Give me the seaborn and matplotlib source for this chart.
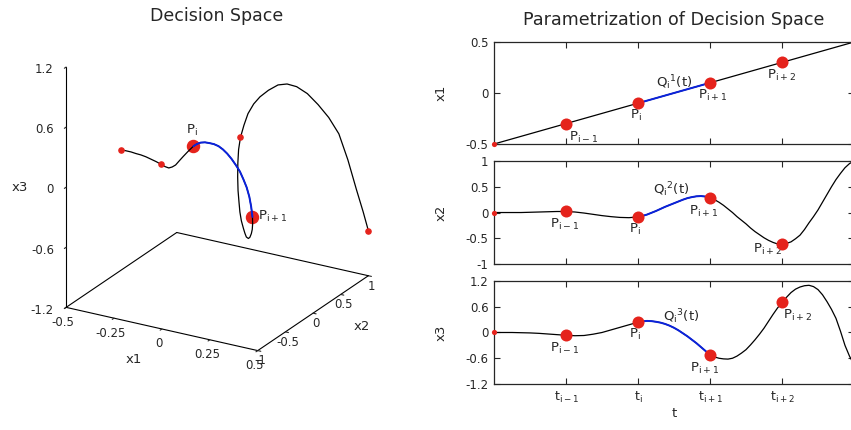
import numpy as np
import pandas as pd
import matplotlib
matplotlib.use('Agg')
import matplotlib.pyplot as plt
import seaborn as sns
from mpl_toolkits.mplot3d import proj3d

t = [0.0, 0.125, 0.25, 0.375, 0.5, 0.625, 0.75, 0.875,
     1.0, 1.125, 1.25, 1.375, 1.5, 1.625, 1.75, 1.875,
     2.0, 2.0625, 2.125, 2.1875, 2.25, 2.3125, 2.375, 2.4375,
     2.5, 2.5625, 2.625, 2.6875, 2.75, 2.8125, 2.875, 2.9375,
     3.0, 3.0625, 3.125, 3.1875, 3.25, 3.3125, 3.375, 3.4375,
     3.5, 3.5625, 3.625, 3.6875, 3.75, 3.8125, 3.875, 3.9375,
     4.0, 4.0625, 4.125, 4.1875, 4.25, 4.3125, 4.375, 4.4375,
     4.5, 4.5625, 4.625, 4.6875, 4.75, 4.8125, 4.875, 4.9375, 5.0]
x1 = [-0.5, -0.475, -0.45, -0.425, -0.4, -0.375, -0.35, -0.325,
      -0.3, -0.275, -0.25, -0.225, -0.2, -0.175, -0.15, -0.125,
      -0.1, -0.0875, -0.075, -0.0625, -0.05, -0.0375, -0.025, -0.0125,
      0.0, 0.0125, 0.025, 0.0375, 0.05, 0.0625, 0.075, 0.0875,
      0.1, 0.1125, 0.125, 0.1375, 0.15, 0.1625, 0.175, 0.1875,
      0.2, 0.2125, 0.225, 0.2375, 0.25, 0.2625, 0.275, 0.2875,
      0.3, 0.3125, 0.325, 0.3375, 0.35, 0.3625, 0.375, 0.3875,
      0.4, 0.4125, 0.425, 0.4375, 0.45, 0.4625, 0.475, 0.4875, 0.5]
x2 = [0.0, 0.0, 0.0, 0.0, 0.005, 0.01, 0.015, 0.02,
      0.02, 0.01, -0.01, -0.035, -0.06, -0.08, -0.095, -0.1,
      -0.085, -0.065, -0.04, -0.005, 0.03, 0.07, 0.11, 0.145,
      0.18, 0.215, 0.25, 0.28, 0.3, 0.315, 0.32, 0.31,
      0.29, 0.25, 0.2, 0.14, 0.07, 0.0, -0.08, -0.15,
      -0.22, -0.3, -0.37, -0.43, -0.49, -0.54, -0.58, -0.61,
      -0.62, -0.6, -0.57, -0.51, -0.44, -0.33, -0.2, -0.08,
      0.05, 0.2, 0.35, 0.5, 0.64, 0.76, 0.87, 0.95, 1.0]
x3 = [0.0, 0.0, 0.0, -0.005, -0.01, -0.02, -0.035, -0.05,
      -0.065, -0.075, -0.07, -0.04, 0.0, 0.06, 0.12, 0.18,
      0.24, 0.26, 0.27, 0.265, 0.25, 0.23, 0.2, 0.16,
      0.11, 0.05, -0.02, -0.09, -0.17, -0.25, -0.34, -0.43,
      -0.52, -0.57, -0.6, -0.615, -0.62, -0.6, -0.55, -0.48,
      -0.4, -0.29, -0.17, -0.04, 0.1, 0.26, 0.42, 0.57,
      0.7, 0.82, 0.93, 1.01, 1.06, 1.09, 1.1, 1.07,
      1.0, 0.88, 0.72, 0.54, 0.33, 0.03, -0.3, -0.55, -0.75]

knot_t = [0, 1, 2, 3, 4, 5]
seg_start, seg_end = 2, 3          # Q_i segment drawn in blue
point_labels = ['P$_{i-1}$', 'P$_{i}$', 'P$_{i+1}$', 'P$_{i+2}$']
t_ticklabels = ['t$_{i-1}$', 't$_{i}$', 't$_{i+1}$', 't$_{i+2}$']
q_labels = ['Q$_i$$^1$(t)', 'Q$_i$$^2$(t)', 'Q$_i$$^3$(t)']
x1_ticks = [-0.5, -0.25, 0, 0.25, 0.5]
x2_ticks = [-1, -0.5, 0, 0.5, 1]
x3_ticks = [-1.2, -0.6, 0, 0.6, 1.2]

RED = '#e5231c'
BLUE = '#0a22dc'

sns.set_style('ticks', {'xtick.direction': 'in', 'ytick.direction': 'in'})
plt.rcParams['font.family'] = ['DejaVu Sans']
plt.rcParams['mathtext.default'] = 'regular'
plt.rcParams['axes.unicode_minus'] = False
plt.rcParams['font.size'] = 8.5

df = pd.DataFrame({'t': t, 'x1': x1, 'x2': x2, 'x3': x3})
seg = df[(df['t'] >= seg_start) & (df['t'] <= seg_end)]
knots = df[df['t'].isin(knot_t)].reset_index(drop=True)
inner = knots[(knots['t'] > 0) & (knots['t'] < 5)]
ends = knots[(knots['t'] == 0) | (knots['t'] == 5)]

fig = plt.figure(figsize=(8.51, 4.30), dpi=100)

# ================= right: three parametrization panels =================
panels = [
    ('x1', [-0.5, 0.5], [-0.5, 0, 0.5], [0.5805, 0.6651, 0.4230, 0.2372]),
    ('x2', [-1, 1], [-1, -0.5, 0, 0.5, 1], [0.5805, 0.3860, 0.4230, 0.2395]),
    ('x3', [-1.2, 1.2], x3_ticks, [0.5805, 0.1070, 0.4230, 0.2395]),
]
# label offsets in pixels (dx, dy) for P_{i-1}..P_{i+2} and Q label
lab_off = [
    [(3, -17, 'left'), (-2, -16, 'center'), (3, -16, 'center'), (0, -16, 'center')],
    [(-1, -16, 'center'), (-3, -16, 'center'), (-6, -17, 'center'), (-14, -8, 'center')],
    [(-1, -17, 'center'), (-3, -16, 'center'), (-5, -17, 'center'), (16, -16, 'center')],
]
q_off = [(-18, 6), (-21, 9), (-11, 7)]

for k, (col, ylim, yticks, pos) in enumerate(panels):
    ax = fig.add_axes(pos)
    sns.lineplot(data=df, x='t', y=col, color='black', lw=0.9, estimator=None, ax=ax)
    sns.lineplot(data=seg, x='t', y=col, color=BLUE, lw=1.4, estimator=None, ax=ax)
    sns.scatterplot(data=inner, x='t', y=col, color=RED, s=75, linewidth=0, ax=ax, zorder=5)
    sns.scatterplot(data=ends, x='t', y=col, color=RED, s=14, linewidth=0, ax=ax, zorder=5,
                    clip_on=False)
    ax.set_xlim(0, 5)
    ax.set_ylim(*ylim)
    ax.set_yticks(yticks)
    ax.set_yticklabels([f'{v:g}' for v in yticks])
    ax.set_xticks([1, 2, 3, 4])
    ax.tick_params(top=True, right=True, length=4, width=0.8, pad=4)
    for sp in ax.spines.values():
        sp.set_linewidth(0.9)
    ax.set_ylabel(col, fontsize=9.5, labelpad=13)
    if k < 2:
        ax.set_xticklabels([])
        ax.set_xlabel('')
    else:
        ax.set_xticklabels(t_ticklabels, fontsize=9)
        ax.set_xlabel('t', fontsize=9.5, labelpad=2)
    for j, row in enumerate(inner.itertuples()):
        dx, dy, ha = lab_off[k][j]
        ax.annotate(point_labels[j], (row.t, getattr(row, col)),
                    xytext=(dx * 0.72, dy * 0.72), textcoords='offset points',
                    ha=ha, va='baseline', fontsize=9.5)
    mid = df[df['t'] == 2.5].iloc[0]
    ax.annotate(q_labels[k], (mid['t'], mid[col]),
                xytext=(q_off[k][0] * 0.72, q_off[k][1] * 0.72), textcoords='offset points',
                ha='left', va='baseline', fontsize=9.5)

fig.text(0.792, 0.953, 'Parametrization of Decision Space', ha='center', va='center', fontsize=12.6)

# ================= left: decision space (3D) =================
ax3 = fig.add_axes([-0.011, 0.129, 0.52, 0.92], projection='3d')
ax3.set_proj_type('ortho')
ax3.view_init(elev=23, azim=-60)
ax3.set_box_aspect((1, 1, 1.18))
ax3.set_facecolor('none')
xl, yl, zl = (-0.5, 0.5), (-1, 1), (-1.2, 1.2)

ax3.plot(df['x1'], df['x2'], df['x3'], color='black', lw=0.9)
ax3.plot(seg['x1'], seg['x2'], seg['x3'], color=BLUE, lw=1.4)
small = knots[knots['t'].isin([0, 1, 4, 5])]
big = knots[knots['t'].isin([2, 3])]
ax3.scatter(small['x1'], small['x2'], small['x3'], color=RED, s=14, depthshade=False)
ax3.scatter(big['x1'], big['x2'], big['x3'], color=RED, s=75, depthshade=False)

# back edges of the base so the floor is a closed frame
ax3.plot([xl[0], xl[0]], yl, [zl[0], zl[0]], color='black', lw=0.8)
ax3.plot(xl, [yl[1], yl[1]], [zl[0], zl[0]], color='black', lw=0.8)

ax3.set_xlim(*xl)
ax3.set_ylim(*yl)
ax3.set_zlim(*zl)
ax3.set_xticks(x1_ticks)
ax3.set_xticklabels([f'{v:g}' for v in x1_ticks])
ax3.set_yticks(x2_ticks)
ax3.set_yticklabels([f'{v:g}' for v in x2_ticks])
ax3.set_zticks(x3_ticks)
ax3.set_zticklabels([f'{v:g}' for v in x3_ticks])
ax3.grid(False)
for axis in (ax3.xaxis, ax3.yaxis, ax3.zaxis):
    axis.pane.fill = False
    axis.pane.set_edgecolor('none')
    axis.line.set_color('black')
    axis.line.set_linewidth(0.8)
    axis._axinfo['tick']['inward_factor'] = 0.2
    axis._axinfo['tick']['outward_factor'] = 0.0
ax3.zaxis.set_ticks_position('lower')
ax3.tick_params(labelsize=8.5)
ax3.tick_params(axis='x', pad=-4)
ax3.tick_params(axis='y', pad=-6)
ax3.tick_params(axis='z', pad=-2)
for lab in ax3.get_zticklabels():
    lab.set_horizontalalignment('right')
    lab.set_verticalalignment('center_baseline')

M = ax3.get_proj()

# axis titles of the 3D box, placed next to the middle of each axis edge (offsets in px)
axis_titles = [('x1', (0, yl[0], zl[0]), (-28, -31)),
               ('x2', (xl[1], 0, zl[0]), (49, -13)),
               ('x3', (xl[0], yl[0], 0), (-46, 0))]
for txt, (ax_x, ax_y, ax_z), (dx, dy) in axis_titles:
    px, py, _ = proj3d.proj_transform(ax_x, ax_y, ax_z, M)
    ax3.annotate(txt, (px, py), xytext=(dx * 0.72, dy * 0.72), textcoords='offset points',
                 ha='center', va='center', fontsize=9.5)

lab3 = [(2, 'P$_{i}$', -1, 12, 'center'), (3, 'P$_{i+1}$', 6, -3, 'left')]
for tk, txt, dx, dy, ha in lab3:
    r = knots[knots['t'] == tk].iloc[0]
    px, py, _ = proj3d.proj_transform(r['x1'], r['x2'], r['x3'], M)
    ax3.annotate(txt, (px, py), xytext=(dx * 0.72, dy * 0.72), textcoords='offset points',
                 ha=ha, va='baseline', fontsize=9.5)

fig.text(0.255, 0.963, 'Decision Space', ha='center', va='center', fontsize=12.5)

fig.savefig('out.png', dpi=100)
